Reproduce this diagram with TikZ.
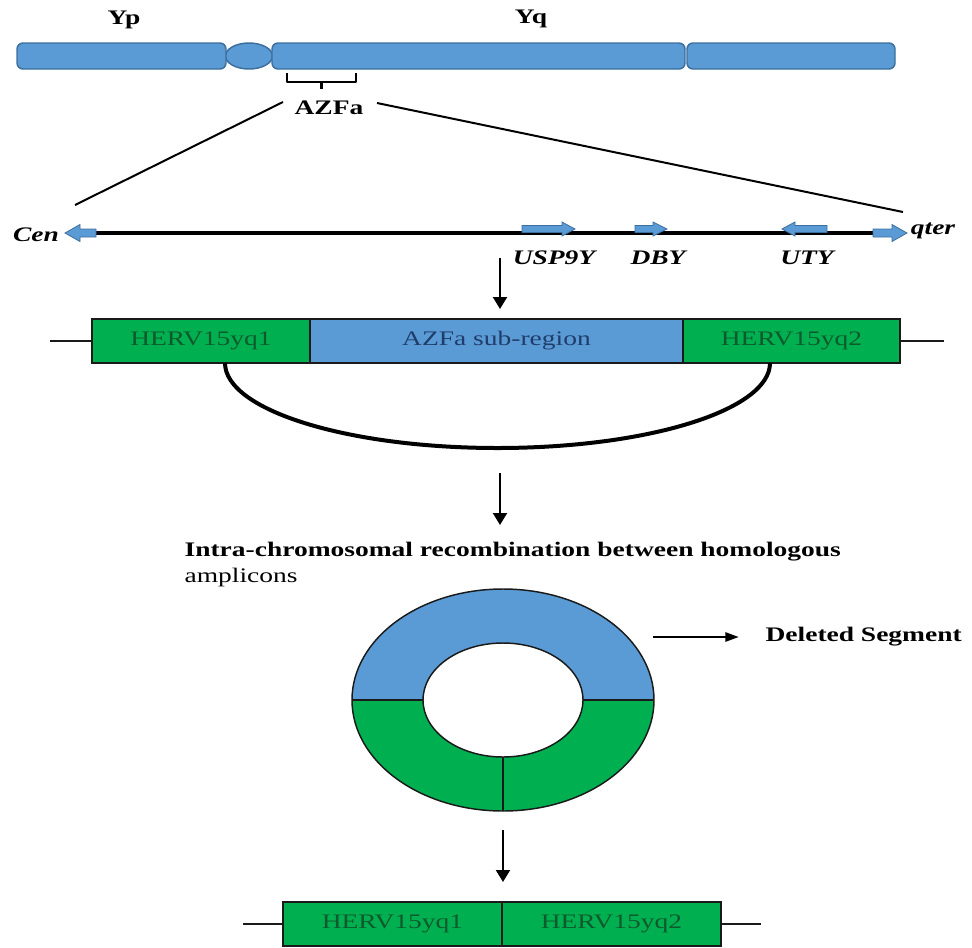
\documentclass[tikz,border=0pt]{standalone}
\usepackage{fontspec}
\setmainfont{Liberation Serif}[FakeStretch=1.33]
\usetikzlibrary{arrows.meta,calc,shapes.geometric}
\definecolor{cblue}{HTML}{5B9BD5}
\definecolor{cblueD}{HTML}{3C6E9E}
\definecolor{cgreen}{HTML}{00B050}
\definecolor{cgreenT}{HTML}{0F5A2C}
\definecolor{cblueT}{HTML}{1F3D6B}
\definecolor{edge}{HTML}{1A1A1A}
\newcommand\rblock[6]{% x0, xh, xt, yc, shaft half, head half
  \filldraw[garrow] (#1,#4-#5) -- (#2,#4-#5) -- (#2,#4-#6) -- (#3,#4) -- (#2,#4+#6) -- (#2,#4+#5) -- (#1,#4+#5) -- cycle;}
\begin{document}
\begin{tikzpicture}[x=0.75pt,y=-0.75pt, font=\fontsize{15.5}{18}\selectfont,
 chrom/.style={draw=cblueD, fill=cblue, line width=1.1pt, rounded corners=4.5pt, minimum height=19.5pt, inner sep=0pt, outer sep=0pt},
 cenmere/.style={draw=cblueD, fill=cblue, line width=1.1pt, ellipse, minimum width=35.25pt, minimum height=19.5pt, inner sep=0pt},
 box/.style={draw=edge, line width=1.1pt, minimum height=33pt, inner sep=0pt, outer sep=0pt},
 hbox/.style={box, fill=cgreen, text=cgreenT},
 abox/.style={box, fill=cblue, text=cblueT},
 lbl/.style={font=\fontsize{15.5}{18}\selectfont\bfseries, inner sep=1pt},
 gene/.style={font=\fontsize{15.5}{18}\selectfont\bfseries\itshape, inner sep=1pt},
 garrow/.style={fill=cblue, draw=cblueD, line width=0.6pt},
 varr/.style={line width=1.5pt, -{Triangle[length=9pt,width=10.5pt]}},
 thinl/.style={line width=1.1pt, draw=edge},
 ringfill/.style={draw=none}
]
\useasboundingbox (0,0) rectangle (972,947);

% chromosome
\node[cenmere] (cen) at (249,56) {};
\node[chrom, minimum width=156.75pt] (s1) at (121.5,56) {};
\node[chrom, minimum width=309.75pt] (s2) at (478.5,56) {};
\node[chrom, minimum width=156pt] (s3) at (791,56) {};
\node[lbl] (yp) at (124,20) {Yp};
\node[lbl] (yq) at (531,19) {Yq};

% AZFa bracket
\draw[line width=1.9pt, line join=round] (287,73) -- (287,82) -- (356,82) -- (356,73);
\draw[line width=1.9pt] (321.5,82) -- (321.5,89);
\node[lbl] (azfa) at (329,108) {AZFa};
\coordinate (zl) at (283,102);
\coordinate (zr) at (377,103);
\coordinate (gl) at (75,205);
\coordinate (gr) at (903,212);
\draw[line width=1.5pt] (zl) -- (gl);
\draw[line width=1.5pt] (zr) -- (gr);

% gene line
\coordinate (lineL) at (93,233);
\coordinate (lineR) at (877,233);
\draw[line width=2.3pt] (lineL) -- (lineR);
% Cen arrow (left)
\filldraw[garrow] (65,233) -- (80,224.5) -- (80,229) -- (96,229) -- (96,237) -- (80,237) -- (80,241.5) -- cycle;
% qter arrow (right)
\rblock{873}{892}{907}{233}{4}{8.5}
% genes
\rblock{522}{562}{575}{229}{3.5}{7}
\rblock{635}{653}{667}{229}{3.5}{7}
\filldraw[garrow] (782,229) -- (795,222) -- (795,225.5) -- (827,225.5) -- (827,232.5) -- (795,232.5) -- (795,236) -- cycle;

\node[gene] (cenl) at (36,235) {Cen};
\node[gene] (qter) at (933,231) {qter};
\node[gene] (usp) at (554,258) {USP9Y};
\node[gene] (dby) at (658,258) {DBY};
\node[gene] (uty) at (807,258) {UTY};

% arrow 1
\coordinate (a1s) at (500,258);
\coordinate (a1e) at (500,309);
\draw[varr] (a1s) -- (a1e);

% box row
\node[hbox, minimum width=163.5pt] (h1) at (201,341) {HERV15yq1};
\node[abox, minimum width=279.75pt] (az) at (496.5,341) {AZFa sub-region};
\node[hbox, minimum width=162.75pt] (h2) at (791.5,341) {HERV15yq2};
\coordinate (bl) at (50,341);
\coordinate (br) at (944,341);
\draw[thinl] (bl) -- (h1.west);
\draw[thinl] (h2.east) -- (br);

% recombination arc
\coordinate (arcL) at (225,363);
\coordinate (arcR) at (770,363);
\draw[line width=3pt] (arcL) .. controls (225,410) and (347,448) .. (497.5,448) .. controls (648,448) and (770,410) .. (arcR);

% arrow 2
\coordinate (a2s) at (500,473);
\coordinate (a2e) at (500,525);
\draw[varr] (a2s) -- (a2e);

\node[lbl, anchor=west] (intra) at (183,552) {Intra-chromosomal recombination between homologous};
\node[inner sep=1pt, anchor=west] (ampl) at (183,578) {amplicons};

% ring
\begin{scope}[shift={(503,700)}, x=0.75pt, y=0.75pt]
  \fill[cblue] (-151,0) arc[start angle=180, end angle=0, x radius=113.25pt, y radius=83.25pt]
     -- (80,0) arc[start angle=0, end angle=180, x radius=60pt, y radius=42.75pt] -- cycle;
  \fill[cgreen] (-151,0) arc[start angle=180, end angle=360, x radius=113.25pt, y radius=83.25pt]
     -- (80,0) arc[start angle=360, end angle=180, x radius=60pt, y radius=42.75pt] -- cycle;
  \draw[thinl] (0,0) ellipse [x radius=113.25pt, y radius=83.25pt];
  \draw[thinl] (0,0) ellipse [x radius=60pt, y radius=42.75pt];
  \draw[thinl] (-151,0) -- (-80,0);
  \draw[thinl] (80,0) -- (151,0);
  \draw[thinl] (0,-57) -- (0,-111);
\end{scope}
\coordinate (ds) at (653,637);
\node[lbl, anchor=west] (del) at (764,637) {Deleted Segment};
\draw[line width=1.3pt, -{Triangle[length=10pt,width=7pt]}] (ds) -- ([xshift=-19pt]del.west);

% arrow 3
\coordinate (a3s) at (503,830);
\coordinate (a3e) at (503,882);
\draw[varr] (a3s) -- (a3e);

% bottom row
\node[hbox, minimum width=164.25pt] (b1) at (392.5,924) {HERV15yq1};
\node[hbox, minimum width=164.25pt] (b2) at (611.5,924) {HERV15yq2};
\coordinate (cl) at (243,924);
\coordinate (cr) at (761,924);
\draw[thinl] (cl) -- (b1.west);
\draw[thinl] (b2.east) -- (cr);
\end{tikzpicture}
\end{document}
